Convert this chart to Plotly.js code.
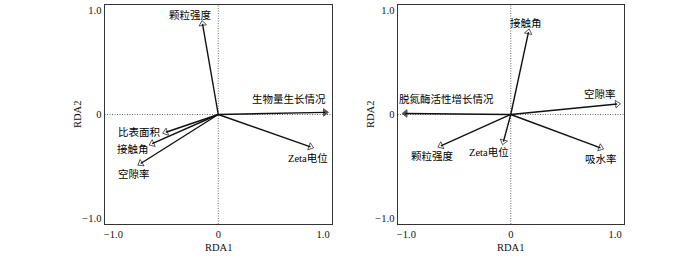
<!DOCTYPE html>
<html>
<head>
<meta charset="utf-8">
<script src="https://cdn.plot.ly/plotly-3.0.1.min.js"></script>
<style>html,body{margin:0;padding:0;background:#fff;}#chart{width:700px;height:258px;}</style>
</head>
<body>
<div id="chart"></div>
<script>
// ---- data ----
const leftVars  = ['颗粒强度', '生物量生长情况', 'Zeta电位', '比表面积', '接触角', '空隙率'];
const leftRDA1  = [-0.15, 1.02, 0.88, -0.50, -0.63, -0.74];
const leftRDA2  = [0.87, 0.02, -0.31, -0.17, -0.28, -0.47];
const rightVars = ['接触角', '空隙率', '脱氮酶活性增长情况', '颗粒强度', 'Zeta电位', '吸水率'];
const rightRDA1 = [0.17, 1.02, -1.01, -0.67, -0.07, 0.86];
const rightRDA2 = [0.79, 0.10, 0.01, -0.30, -0.26, -0.32];
const leftResponse = '生物量生长情况';
const rightResponse = '脱氮酶活性增长情况';
const tickVals = [-1, 0, 1];
const tickText = ['−1.0', '0', '1.0'];
const xTitle = 'RDA1';
const yTitle = 'RDA2';

// ---- style: label pixel offsets (not data) ----
const leftShift  = [[-12, 9], [-36, 13], [-3, -11], [-26, 0], [-19, -5], [-7, -10]];
const rightShift = [[-2, 9], [-17, 10], [41, 14], [-8, -10], [-14, -10], [0, -11]];

const serif = '"Liberation Serif", "Noto Sans CJK SC", serif';
const labFont = {family: serif, size: 10.5, color: '#000'};
const axFont = {family: serif, size: 10.5, color: '#111'};

const traces = [];
const annotations = [];
function addPanel(vars, xs, ys, resp, shifts, xa, ya) {
  vars.forEach((v, i) => {
    const filled = v === resp;
    traces.push({
      type: 'scatter', mode: 'lines+markers', xaxis: xa, yaxis: ya,
      x: [0, xs[i]], y: [0, ys[i]], showlegend: false, hoverinfo: 'skip',
      line: {color: '#111', width: 1.4},
      marker: {symbol: filled ? 'triangle-up' : 'triangle-up-open', size: [0, 6.5], angleref: 'previous',
               color: '#111', line: {color: '#111', width: 1}}
    });
    annotations.push({
      xref: xa, yref: ya, x: xs[i], y: ys[i], text: v, showarrow: false,
      xshift: shifts[i][0], yshift: shifts[i][1], font: labFont,
      xanchor: 'center', yanchor: 'middle'
    });
  });
}
addPanel(leftVars, leftRDA1, leftRDA2, leftResponse, leftShift, 'x', 'y');
addPanel(rightVars, rightRDA1, rightRDA2, rightResponse, rightShift, 'x2', 'y2');

// axis titles placed beside each panel
[['x domain', 'y domain'], ['x2 domain', 'y2 domain']].forEach(([xr, yr]) => {
  annotations.push({xref: xr, yref: yr, x: 0, y: 0.5, xshift: -27, text: yTitle, textangle: -90,
    showarrow: false, font: axFont, xanchor: 'center', yanchor: 'middle'});
  annotations.push({xref: xr, yref: yr, x: 0.5, y: 0, yshift: -23, text: xTitle,
    showarrow: false, font: axFont, xanchor: 'center', yanchor: 'middle'});
});

function xaxisDef(dom, anchor) {
  return {domain: dom, anchor: anchor, range: [-1.085, 1.085], tickvals: tickVals, ticktext: tickText,
    showgrid: false, zeroline: false, showline: true, mirror: true, linecolor: '#333', linewidth: 1,
    ticks: '', tickfont: axFont};
}
function yaxisDef(anchor) {
  return {domain: [0, 1], anchor: anchor, range: [-1.05, 1.05], tickvals: tickVals, ticktext: tickText,
    showgrid: false, zeroline: false, showline: true, mirror: true, linecolor: '#333', linewidth: 1,
    ticks: '', tickfont: axFont};
}

const shapes = [];
[['x', 'y'], ['x2', 'y2']].forEach(([xa, ya]) => {
  shapes.push({type: 'line', xref: xa, yref: ya + ' domain', x0: 0, x1: 0, y0: 0, y1: 1,
               line: {color: '#666', width: 1, dash: '1px,1.5px'}, layer: 'below'});
  shapes.push({type: 'line', xref: xa + ' domain', yref: ya, x0: 0, x1: 1, y0: 0, y1: 0,
               line: {color: '#666', width: 1, dash: '1px,1.5px'}, layer: 'below'});
});

const layout = {
  width: 700, height: 258,
  margin: {l: 0, r: 0, t: 5, b: 34},
  paper_bgcolor: '#fff', plot_bgcolor: '#fff',
  xaxis: xaxisDef([104.5 / 700, 332 / 700], 'y'),
  yaxis: yaxisDef('x'),
  xaxis2: xaxisDef([397.5 / 700, 624 / 700], 'y2'),
  yaxis2: yaxisDef('x2'),
  shapes: shapes,
  annotations: annotations,
  showlegend: false
};

Plotly.newPlot('chart', traces, layout, {staticPlot: true, displayModeBar: false});
</script>
</body>
</html>
